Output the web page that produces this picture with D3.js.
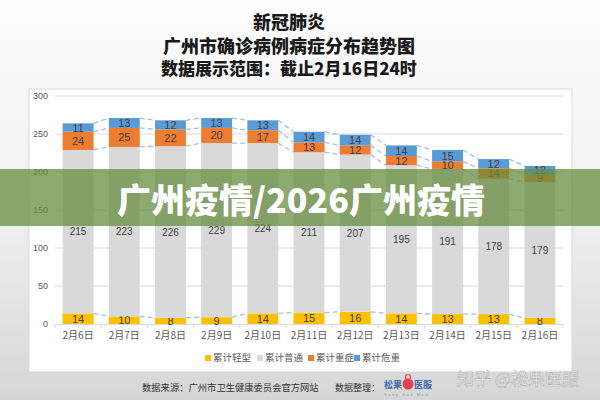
<!DOCTYPE html>
<html><head><meta charset="utf-8">
<script src="https://cdn.jsdelivr.net/npm/d3@7"></script>
<style>body{margin:0;padding:0;overflow:hidden;}svg{display:block;}</style>
</head><body>
<svg id="c" width="600" height="400"></svg>
<script>
const dates = ["2月6日","2月7日","2月8日","2月9日","2月10日","2月11日","2月12日","2月13日","2月14日","2月15日","2月16日"];
const mild = [14,10,8,9,14,15,16,14,13,13,8];
const common = [215,223,226,229,224,211,207,195,191,178,179];
const severe = [24,25,22,20,17,13,12,12,10,14,9];
const critical = [11,13,12,13,13,14,14,14,15,12,12];
const seriesNames = ["累计轻型","累计普通","累计重症","累计危重"];
const yTicks = [0,50,100,150,200,250,300];
const titleLines = ["新冠肺炎","广州市确诊病例病症分布趋势图","数据展示范围：截止2月16日24时"];
const bannerText = "广州疫情/2026广州疫情";

const colors = ["#ffc000","#d9d9d9","#ed7d31","#5b9bd5"];
const svg = d3.select("#c");
const cjk = "'Noto Sans CJK SC','Noto Sans',sans-serif";

// background gradient
const defs = svg.append("defs");
const g1 = defs.append("linearGradient").attr("id","bg").attr("x1",0).attr("y1",0).attr("x2",0).attr("y2",1);
g1.append("stop").attr("offset","0%").attr("stop-color","#fdfdfd");
g1.append("stop").attr("offset","55%").attr("stop-color","#efefef");
g1.append("stop").attr("offset","100%").attr("stop-color","#d6d6d6");
svg.append("rect").attr("width",600).attr("height",400).attr("fill","url(#bg)");

// titles
const tY = [23,47,69], tS=[18,18,17];
titleLines.forEach((t,i)=>{
  svg.append("text").attr("x",289).attr("y",tY[i]).attr("dy","0.36em")
    .attr("text-anchor","middle").attr("font-family",cjk).attr("font-weight",900)
    .attr("font-size",tS[i]).attr("fill","#1a1a1a").text(t);
});

// panel
svg.append("rect").attr("x",29).attr("y",89).attr("width",543).attr("height",283)
  .attr("fill","#fff").attr("stroke","#d9d9d9").attr("stroke-width",1);

const x = d3.scaleBand().domain(dates).range([55,563]).paddingInner(0.33).paddingOuter(0.165);
const y = d3.scaleLinear().domain([0,300]).range([324,96]);

// gridlines
svg.append("g").selectAll("line").data(yTicks.filter(d=>d>0)).join("line")
  .attr("x1",55).attr("x2",563).attr("y1",d=>y(d)).attr("y2",d=>y(d))
  .attr("stroke","#d9d9d9").attr("stroke-width",1);

// y axis labels
const ya = svg.append("g").attr("transform","translate(54,0)")
  .call(d3.axisLeft(y).tickValues(yTicks).tickSize(0).tickPadding(6));
ya.select(".domain").remove();
ya.selectAll("text").attr("font-family","'Liberation Sans',Arial,sans-serif").attr("font-size",9).attr("fill","#595959");

// x axis
const step = x.step();
const xa = svg.append("g").attr("transform","translate(0,324)")
  .call(d3.axisBottom(x).tickSize(0).tickPadding(8));
xa.select(".domain").attr("stroke","#d9d9d9");
xa.selectAll("text").attr("font-family",cjk).attr("font-size",10).attr("fill","#595959");
svg.append("g").selectAll("line").data(d3.range(dates.length+1)).join("line")
  .attr("x1",i=>55+i*step).attr("x2",i=>55+i*step).attr("y1",324).attr("y2",328)
  .attr("stroke","#d9d9d9");

// stack
const table = dates.map((d,i)=>({date:d, s0:mild[i], s1:common[i], s2:severe[i], s3:critical[i]}));
const stack = d3.stack().keys(["s0","s1","s2","s3"])(table);

// series lines (dashed connectors)
const bw = x.bandwidth();
stack.forEach((layer)=>{
  const segs = [];
  for(let i=0;i<layer.length-1;i++){
    segs.push([x(dates[i])+bw, y(layer[i][1]), x(dates[i+1]), y(layer[i+1][1])]);
  }
  svg.append("g").selectAll("line").data(segs).join("line")
    .attr("x1",d=>d[0]).attr("y1",d=>d[1]).attr("x2",d=>d[2]).attr("y2",d=>d[3])
    .attr("stroke","#9dc3e6").attr("stroke-width",1.3).attr("stroke-dasharray","5,3");
});

// bars
stack.forEach((layer,k)=>{
  svg.append("g").selectAll("rect").data(layer).join("rect")
    .attr("x",d=>x(d.data.date)).attr("width",bw)
    .attr("y",d=>y(d[1])).attr("height",d=>y(d[0])-y(d[1]))
    .attr("fill",colors[k]);
  svg.append("g").selectAll("text").data(layer).join("text")
    .attr("x",d=>x(d.data.date)+bw/2).attr("y",d=>(y(d[0])+y(d[1]))/2).attr("dy","0.36em")
    .attr("text-anchor","middle").attr("font-family","'Liberation Sans',Arial,sans-serif")
    .attr("font-size",k===1?10:11).attr("fill","#404040")
    .text(d=>d[1]-d[0]);
});

// legend
const lx = [205,257,308,354];
seriesNames.forEach((n,i)=>{
  svg.append("rect").attr("x",lx[i]).attr("y",355).attr("width",6).attr("height",6).attr("fill",colors[i]);
  svg.append("text").attr("x",lx[i]+8).attr("y",358).attr("dy","0.36em")
    .attr("font-family",cjk).attr("font-size",9.5).attr("fill","#595959").text(n);
});

// footer
svg.append("text").attr("x",142).attr("y",388).attr("dy","0.36em").attr("font-family",cjk)
  .attr("font-size",9.3).attr("fill","#333").text("数据来源：广州市卫生健康委员会官方网站");
svg.append("text").attr("x",335).attr("y",388).attr("dy","0.36em").attr("font-family",cjk)
  .attr("font-size",9).attr("fill","#333").text("数据整理：");
svg.append("text").attr("x",384).attr("y",385).attr("dy","0.36em").attr("font-family",cjk)
  .attr("font-size",9).attr("font-weight",700).attr("fill","#3b6db3").text("松果");
svg.append("circle").attr("cx",408).attr("cy",384).attr("r",5.5).attr("fill","#e8404f");
svg.append("circle").attr("cx",408).attr("cy",377).attr("r",2.5).attr("fill","none").attr("stroke","#e8404f").attr("stroke-width",1.2);
svg.append("text").attr("x",414).attr("y",385).attr("dy","0.36em").attr("font-family",cjk)
  .attr("font-size",9).attr("font-weight",700).attr("fill","#3b6db3").text("医服");
svg.append("text").attr("x",384).attr("y",395).attr("dy","0.36em").attr("font-family","'Liberation Sans',sans-serif")
  .attr("font-size",4).attr("letter-spacing",1.5).attr("fill","#7a9bd0").text("Song Guo Med");

// watermark
svg.append("text").attr("x",457).attr("y",379).attr("dy","0.36em").attr("font-family",cjk)
  .attr("font-size",17).attr("fill","rgba(255,255,255,0.9)").attr("stroke","rgba(130,130,130,0.5)")
  .attr("stroke-width",0.7).text("知乎 @松果医服");

// banner
svg.append("rect").attr("x",0).attr("y",169).attr("width",600).attr("height",57)
  .attr("fill","rgba(104,140,62,0.74)");
svg.append("text").attr("x",301).attr("y",201).attr("dy","0.36em").attr("text-anchor","middle")
  .attr("font-family",cjk).attr("font-weight",900).attr("font-size",34).attr("fill","#fff").text(bannerText);
</script>
</body></html>
